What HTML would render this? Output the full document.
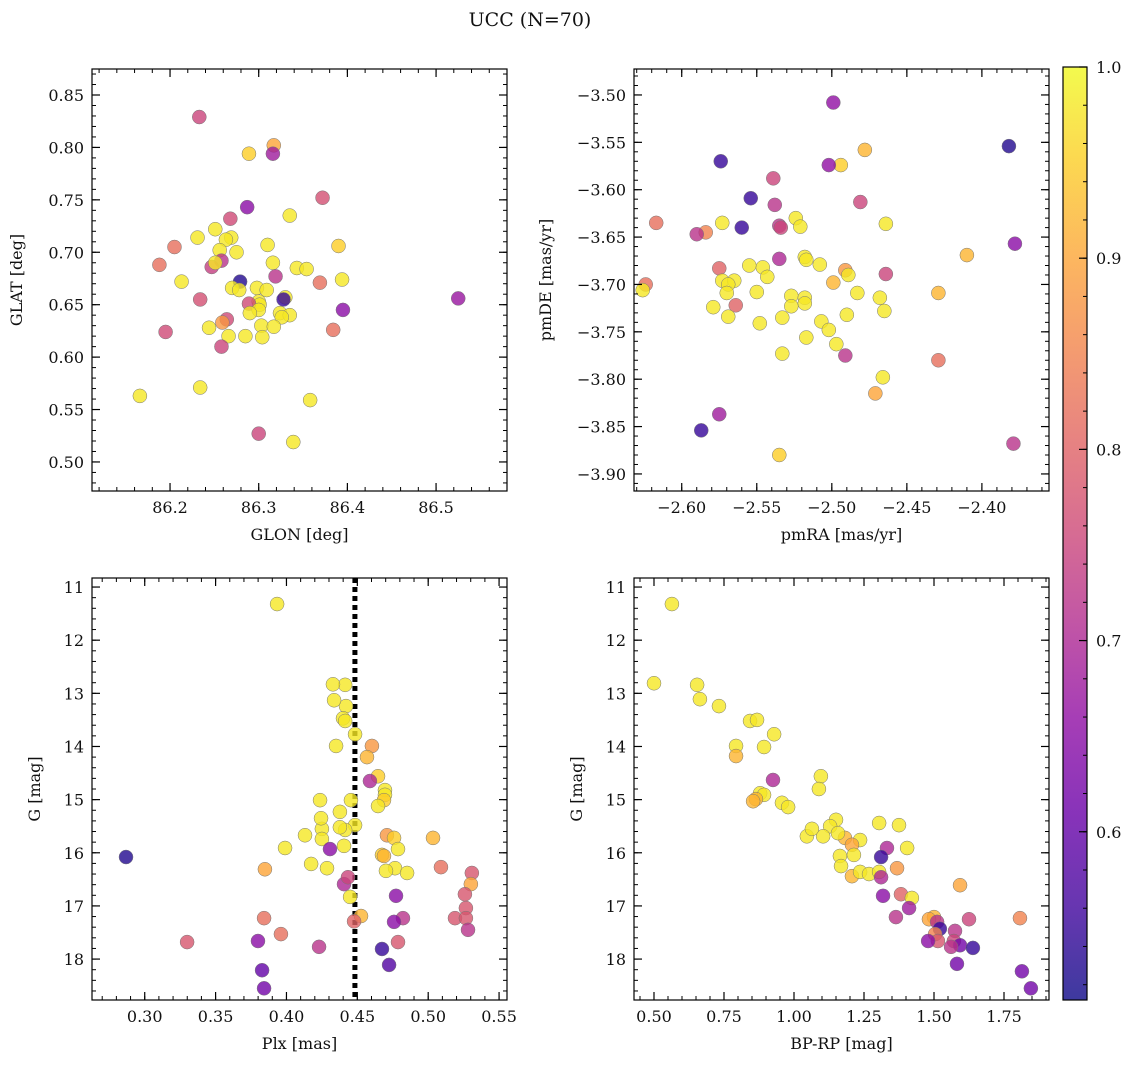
<!DOCTYPE html>
<html><head><meta charset="utf-8">
<style>
html,body{margin:0;padding:0;background:#fff;}
svg text{font-family:"DejaVu Serif","Liberation Serif",serif;fill:#111;}
</style></head>
<body>
<svg id="fig" width="1136" height="1068" viewBox="0 0 1136 1068" xmlns="http://www.w3.org/2000/svg">
<defs>
<linearGradient id="plasmaGrad" x1="0" y1="1" x2="0" y2="0">
<stop offset="0" stop-color="#0d0887"/><stop offset="0.1" stop-color="#41049d"/><stop offset="0.2" stop-color="#6a00a8"/><stop offset="0.3" stop-color="#8f0da4"/><stop offset="0.4" stop-color="#b12a90"/><stop offset="0.5" stop-color="#cc4778"/><stop offset="0.6" stop-color="#e16462"/><stop offset="0.7" stop-color="#f2844b"/><stop offset="0.8" stop-color="#fca636"/><stop offset="0.9" stop-color="#fcce25"/><stop offset="1" stop-color="#f0f921"/>
</linearGradient>
</defs>
<text x="530" y="26" font-size="19" text-anchor="middle">UCC (N=70)</text>
</svg>
<script>
// ---- Panel 1: GLON vs GLAT ----
const glon = [86.233,86.317,86.316,86.289,86.372,86.287,86.335,86.268,86.251,86.231,86.269,86.263,86.310,86.205,86.390,86.256,86.275,86.316,86.258,86.247,86.251,86.188,86.343,86.354,86.319,86.394,86.213,86.279,86.369,86.270,86.298,86.278,86.309,86.330,86.234,86.328,86.300,86.301,86.289,86.395,86.300,86.290,86.324,86.335,86.326,86.264,86.259,86.244,86.303,86.317,86.304,86.384,86.195,86.285,86.266,86.258,86.234,86.166,86.358,86.300,86.339,86.525];
const glat = [0.829,0.802,0.794,0.794,0.752,0.743,0.735,0.732,0.722,0.714,0.714,0.712,0.707,0.705,0.706,0.702,0.700,0.690,0.692,0.686,0.690,0.688,0.685,0.684,0.677,0.674,0.672,0.672,0.671,0.666,0.666,0.664,0.664,0.657,0.655,0.655,0.653,0.650,0.651,0.645,0.645,0.642,0.642,0.640,0.638,0.636,0.633,0.628,0.630,0.629,0.619,0.626,0.624,0.620,0.620,0.610,0.571,0.563,0.559,0.527,0.519,0.656];
const prob1 = [0.75,0.9,0.68,0.95,0.77,0.65,0.98,0.76,0.98,0.98,0.98,0.98,0.98,0.82,0.95,0.98,0.98,0.98,0.72,0.74,0.98,0.82,0.98,0.98,0.72,0.98,0.98,0.53,0.82,0.98,0.98,0.98,0.98,0.98,0.77,0.55,0.98,0.98,0.76,0.65,0.98,0.98,0.98,0.98,0.98,0.76,0.88,0.98,0.98,0.98,0.98,0.82,0.76,0.98,0.98,0.75,0.98,0.98,0.98,0.75,0.98,0.67];
// ---- Panel 2: pmRA vs pmDE ----
const pmra = [-2.499,-2.382,-2.478,-2.574,-2.494,-2.502,-2.539,-2.554,-2.481,-2.538,-2.524,-2.464,-2.617,-2.573,-2.535,-2.521,-2.560,-2.534,-2.584,-2.590,-2.378,-2.410,-2.518,-2.517,-2.535,-2.508,-2.546,-2.555,-2.491,-2.489,-2.464,-2.575,-2.573,-2.565,-2.543,-2.569,-2.624,-2.626,-2.499,-2.550,-2.483,-2.570,-2.429,-2.468,-2.527,-2.518,-2.518,-2.527,-2.579,-2.564,-2.465,-2.490,-2.569,-2.533,-2.507,-2.548,-2.502,-2.517,-2.497,-2.533,-2.491,-2.429,-2.466,-2.471,-2.575,-2.587,-2.379,-2.535];
const pmde = [-3.508,-3.554,-3.558,-3.570,-3.574,-3.574,-3.588,-3.609,-3.613,-3.616,-3.630,-3.636,-3.635,-3.635,-3.638,-3.639,-3.640,-3.640,-3.645,-3.647,-3.657,-3.669,-3.671,-3.674,-3.673,-3.679,-3.682,-3.680,-3.685,-3.690,-3.689,-3.683,-3.696,-3.696,-3.692,-3.700,-3.700,-3.706,-3.698,-3.708,-3.709,-3.709,-3.709,-3.714,-3.712,-3.714,-3.720,-3.723,-3.724,-3.722,-3.728,-3.732,-3.734,-3.735,-3.739,-3.741,-3.748,-3.756,-3.763,-3.773,-3.775,-3.780,-3.798,-3.815,-3.837,-3.854,-3.868,-3.880];
const prob2 = [0.66,0.53,0.92,0.55,0.95,0.66,0.75,0.55,0.75,0.72,0.98,0.98,0.82,0.98,0.72,0.98,0.55,0.75,0.85,0.72,0.65,0.92,0.98,0.98,0.7,0.98,0.98,0.98,0.88,0.98,0.75,0.8,0.98,0.98,0.98,0.98,0.82,0.98,0.92,0.98,0.98,0.98,0.92,0.98,0.98,0.98,0.98,0.98,0.98,0.8,0.98,0.98,0.98,0.98,0.98,0.98,0.98,0.98,0.98,0.98,0.72,0.82,0.98,0.9,0.68,0.55,0.72,0.95];
// ---- Panel 3: Plx vs G ----
const plx = [0.3934,0.4414,0.4328,0.4420,0.4336,0.4399,0.4414,0.4484,0.4350,0.4603,0.4568,0.4646,0.4589,0.4695,0.4695,0.4688,0.4455,0.4237,0.4646,0.4484,0.4377,0.4250,0.4244,0.4414,0.4377,0.4131,0.4709,0.4759,0.5034,0.4250,0.4406,0.4787,0.3990,0.4307,0.2868,0.4674,0.4688,0.4174,0.5090,0.4286,0.4766,0.3848,0.4851,0.4702,0.5308,0.5301,0.4406,0.4434,0.5259,0.4773,0.4449,0.5266,0.4526,0.4822,0.3842,0.4477,0.5189,0.5266,0.5281,0.4759,0.3961,0.3299,0.3799,0.4230,0.4787,0.4674,0.4724,0.3828,0.3842];
const gmag3 = [11.32,12.84,12.83,13.24,13.13,13.47,13.52,13.77,13.99,13.99,14.20,14.56,14.65,14.82,14.91,15.01,15.01,15.01,15.12,15.48,15.23,15.55,15.35,15.57,15.52,15.67,15.67,15.72,15.72,15.74,15.87,15.93,15.91,15.93,16.08,16.04,16.06,16.21,16.27,16.29,16.29,16.31,16.38,16.34,16.38,16.59,16.59,16.46,16.78,16.81,16.83,17.04,17.19,17.23,17.23,17.29,17.23,17.23,17.45,17.30,17.53,17.68,17.66,17.77,17.68,17.81,18.11,18.21,18.55];
const prob3 = [0.98,0.98,0.98,0.98,0.98,0.98,0.98,0.98,0.98,0.88,0.92,0.95,0.7,0.98,0.98,0.95,0.98,0.98,0.98,0.98,0.98,0.98,0.98,0.98,0.98,0.98,0.88,0.95,0.92,0.98,0.98,0.98,0.98,0.65,0.53,0.95,0.92,0.98,0.82,0.98,0.98,0.9,0.98,0.98,0.78,0.9,0.7,0.75,0.78,0.65,0.98,0.78,0.92,0.72,0.82,0.8,0.78,0.78,0.72,0.65,0.82,0.78,0.65,0.72,0.78,0.55,0.58,0.6,0.62];
const plxLine = 0.4483;
// ---- Panel 4: BP-RP vs G ----
const bprp = [0.564,0.500,0.654,0.664,0.732,0.843,0.868,0.929,0.793,0.893,0.793,0.925,1.096,1.089,0.879,0.893,0.864,0.854,0.957,0.979,1.150,1.304,1.375,1.129,1.046,1.104,1.182,1.236,1.064,1.157,1.207,1.332,1.404,1.164,1.214,1.311,1.368,1.168,1.207,1.236,1.268,1.304,1.311,1.593,1.382,1.421,1.318,1.411,1.500,1.482,1.364,1.625,1.807,1.511,1.521,1.575,1.504,1.514,1.479,1.571,1.593,1.561,1.639,1.582,1.814,1.846];
const gmag4 = [11.32,12.81,12.84,13.11,13.24,13.52,13.50,13.77,13.99,14.01,14.18,14.63,14.56,14.80,14.88,14.91,14.99,15.03,15.06,15.14,15.38,15.44,15.48,15.50,15.69,15.69,15.72,15.76,15.55,15.63,15.85,15.91,15.91,16.06,16.04,16.08,16.29,16.25,16.44,16.36,16.40,16.36,16.46,16.61,16.78,16.85,16.81,17.04,17.21,17.25,17.21,17.25,17.23,17.30,17.43,17.47,17.53,17.66,17.66,17.66,17.74,17.77,17.79,18.09,18.23,18.55];
const prob4 = [0.98,0.98,0.98,0.98,0.98,0.98,0.98,0.98,0.98,0.98,0.92,0.7,0.98,0.98,0.98,0.98,0.92,0.92,0.98,0.98,0.98,0.98,0.98,0.98,0.98,0.98,0.92,0.98,0.98,0.98,0.9,0.7,0.98,0.98,0.98,0.55,0.88,0.98,0.92,0.98,0.98,0.98,0.7,0.9,0.8,0.98,0.65,0.68,0.92,0.9,0.72,0.75,0.85,0.72,0.55,0.72,0.85,0.78,0.65,0.75,0.62,0.72,0.55,0.62,0.62,0.62];
// ---- tick arrays ----
const ticks1x = [86.2,86.3,86.4,86.5], ticks1y = [0.50,0.55,0.60,0.65,0.70,0.75,0.80,0.85];
const ticks2x = [-2.60,-2.55,-2.50,-2.45,-2.40], ticks2y = [-3.90,-3.85,-3.80,-3.75,-3.70,-3.65,-3.60,-3.55,-3.50];
const ticks3x = [0.30,0.35,0.40,0.45,0.50,0.55], ticksG = [11,12,13,14,15,16,17,18];
const ticks4x = [0.50,0.75,1.00,1.25,1.50,1.75];
const cbTicks = [0.6,0.7,0.8,0.9,1.0];
const cMin = 0.512, cMax = 1.0;

const NS = "http://www.w3.org/2000/svg";
const svg = document.getElementById('fig');
function mk(tag, attrs, parent){const e=document.createElementNS(NS,tag);for(const k in attrs)e.setAttribute(k,attrs[k]);(parent||svg).appendChild(e);return e;}
const stops=[[0,[13,8,135]],[0.1,[65,4,157]],[0.2,[106,0,168]],[0.3,[143,13,164]],[0.4,[177,42,144]],[0.5,[204,71,120]],[0.6,[225,100,98]],[0.7,[242,132,75]],[0.8,[252,166,54]],[0.9,[252,206,37]],[1,[240,249,33]]];
function plasma(v){let t=(v-cMin)/(cMax-cMin);t=Math.max(0,Math.min(1,t));for(let i=1;i<stops.length;i++){if(t<=stops[i][0]){const a=stops[i-1],b=stops[i];const f=(t-a[0])/(b[0]-a[0]);const c=a[1].map((x,j)=>Math.round(x+(b[1][j]-x)*f));return `rgb(${c})`;}}return 'rgb(240,249,33)';}
function fmt(v,d){return (v<0?'\u2212':'')+Math.abs(v).toFixed(d);}

function panel(o){
  const g=mk('g',{});
  
  
  const sx=v=>o.x0+(v-o.xd[0])/(o.xd[1]-o.xd[0])*(o.x1-o.x0);
  const sy=v=>o.inv? o.y0+(v-o.yd[0])/(o.yd[1]-o.yd[0])*(o.y1-o.y0) : o.y1-(v-o.yd[0])/(o.yd[1]-o.yd[0])*(o.y1-o.y0);
  const cp='cp'+o.name; const c=mk('clipPath',{id:cp},g); mk('rect',{x:o.x0,y:o.y0,width:o.x1-o.x0,height:o.y1-o.y0},c);
  const pts=mk('g',{'clip-path':`url(#${cp})`},g);
  if(o.vline!==undefined){const l=mk('line',{x1:sx(o.vline),x2:sx(o.vline),y1:o.y0,y2:o.y1,stroke:'#000','stroke-width':5,'stroke-dasharray':'5,4'},pts);
    
    }
  for(let i=0;i<o.xs.length;i++){
    const p=mk('circle',{cx:sx(o.xs[i]),cy:sy(o.ys[i]),r:7,fill:plasma(o.cs[i]),'fill-opacity':0.8,stroke:'#777','stroke-width':0.5},pts);
    
    
  }
  mk('rect',{x:o.x0,y:o.y0,width:o.x1-o.x0,height:o.y1-o.y0,fill:'none',stroke:'#000','stroke-width':1.2},g);
  const minor=(d,step,fn)=>{const s=Math.ceil(d[0]/step-1e-6);for(let k=s;k*step<=d[1]+1e-9;k++)fn(k*step);};
  minor(o.xd,o.xm,v=>{const x=sx(v);mk('line',{x1:x,x2:x,y1:o.y1,y2:o.y1-4,stroke:'#000'},g);mk('line',{x1:x,x2:x,y1:o.y0,y2:o.y0+4,stroke:'#000'},g);});
  minor([Math.min(...o.yd),Math.max(...o.yd)],o.ym,v=>{const y=sy(v);mk('line',{x1:o.x0,x2:o.x0+4,y1:y,y2:y,stroke:'#000'},g);mk('line',{x1:o.x1,x2:o.x1-4,y1:y,y2:y,stroke:'#000'},g);});
  o.xt.forEach(v=>{const x=sx(v);mk('line',{x1:x,x2:x,y1:o.y1,y2:o.y1-8,stroke:'#000','stroke-width':1.2},g);mk('line',{x1:x,x2:x,y1:o.y0,y2:o.y0+8,stroke:'#000','stroke-width':1.2},g);
    const t=mk('text',{x:x,y:o.y1+22,'font-size':16,'text-anchor':'middle'},g);t.textContent=fmt(v,o.xdp);
    
    });
  o.yt.forEach(v=>{const y=sy(v);mk('line',{x1:o.x0,x2:o.x0+8,y1:y,y2:y,stroke:'#000','stroke-width':1.2},g);mk('line',{x1:o.x1,x2:o.x1-8,y1:y,y2:y,stroke:'#000','stroke-width':1.2},g);
    const t=mk('text',{x:o.x0-8,y:y+6,'font-size':16,'text-anchor':'end'},g);t.textContent=fmt(v,o.ydp);
    
    });
  const xl=mk('text',{x:(o.x0+o.x1)/2,y:o.y1+49,'font-size':16,'text-anchor':'middle'},g);xl.textContent=o.xlab;
  
  
  const yx=o.ylx, yy=(o.y0+o.y1)/2;
  const yl=mk('text',{x:yx,y:yy,'font-size':16,'text-anchor':'middle',transform:`rotate(-90 ${yx} ${yy})`},g);yl.textContent=o.ylab;
  
  
}
panel({name:'glon-glat-panel',x0:92,x1:507,y0:69,y1:491,xd:[86.112,86.580],yd:[0.4723,0.8748],xs:glon,ys:glat,cs:prob1,xt:ticks1x,yt:ticks1y,xm:0.02,ym:0.01,xdp:1,ydp:2,xlab:'GLON [deg]',ylab:'GLAT [deg]',ylx:22});
panel({name:'pm-panel',x0:634,x1:1049,y0:69,y1:491,xd:[-2.6318,-2.3553],yd:[-3.918,-3.4726],xs:pmra,ys:pmde,cs:prob2,xt:ticks2x,yt:ticks2y,xm:0.01,ym:0.01,xdp:2,ydp:2,xlab:'pmRA [mas/yr]',ylab:'pmDE [mas/yr]',ylx:551});
panel({name:'plx-g-panel',x0:92,x1:507,y0:578,y1:1000,xd:[0.2628,0.5556],yd:[10.83,18.77],inv:true,xs:plx,ys:gmag3,cs:prob3,xt:ticks3x,yt:ticksG,xm:0.01,ym:0.2,xdp:2,ydp:0,xlab:'Plx [mas]',ylab:'G [mag]',ylx:40,vline:plxLine});
panel({name:'cmd-panel',x0:634,x1:1049,y0:578,y1:1000,xd:[0.4286,1.9107],yd:[10.83,18.77],inv:true,xs:bprp,ys:gmag4,cs:prob4,xt:ticks4x,yt:ticksG,xm:0.05,ym:0.2,xdp:2,ydp:0,xlab:'BP-RP [mag]',ylab:'G [mag]',ylx:582});
// colorbar
const cb=mk('g',{});


const cy0=67,cy1=1000,cx0=1063,cx1=1087;
const cys=v=>cy1-(v-cMin)/(cMax-cMin)*(cy1-cy0);
mk('rect',{x:cx0,y:cy0,width:cx1-cx0,height:cy1-cy0,fill:'url(#plasmaGrad)','fill-opacity':0.8},cb);
mk('rect',{x:cx0,y:cy0,width:cx1-cx0,height:cy1-cy0,fill:'none',stroke:'#000','stroke-width':1.2},cb);
for(let v=0.52;v<=1.0001;v+=0.02){mk('line',{x1:cx1,x2:cx1-4,y1:cys(v),y2:cys(v),stroke:'#000'},cb);}
cbTicks.forEach(v=>{const y=cys(v);mk('line',{x1:cx1,x2:cx1-8,y1:y,y2:y,stroke:'#000','stroke-width':1.2},cb);
  const t=mk('text',{x:1096,y:y+6,'font-size':16},cb);t.textContent=v.toFixed(1);
  
  });
</script>
</body></html>
